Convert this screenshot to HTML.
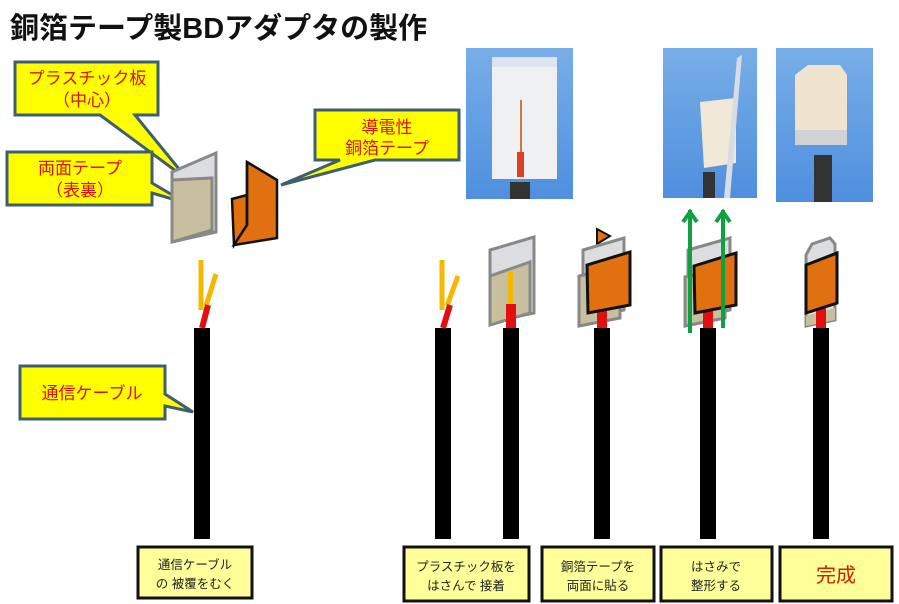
<!DOCTYPE html>
<html><head><meta charset="utf-8"><style>
body{margin:0;background:#fff}
svg{display:block}
text{font-family:"Liberation Sans","Noto Sans CJK JP",sans-serif}
</style></head><body>
<svg width="899" height="604" viewBox="0 0 899 604" xmlns="http://www.w3.org/2000/svg">
<text x="10" y="38" font-size="29" font-weight="bold" fill="#111">銅箔テープ製BDアダプタの製作</text>

<defs>
<linearGradient id="bg" x1="0" y1="0" x2="0" y2="1"><stop offset="0" stop-color="#78aee8"/><stop offset="1" stop-color="#4f8fde"/></linearGradient>
</defs>
<rect x="466" y="48" width="107" height="151" fill="url(#bg)"/>
<rect x="492" y="57" width="65" height="122" fill="#eef0f2"/>
<rect x="492" y="57" width="65" height="10" fill="#dde4ee"/>
<rect x="520" y="100" width="2" height="55" fill="#c87a40"/>
<rect x="517" y="152" width="7" height="25" fill="#e04020"/>
<rect x="510" y="182" width="20" height="17" fill="#333"/>

<rect x="663" y="48" width="94" height="150" fill="url(#bg)"/>
<polygon points="700,102 736,98 736,163 704,168" fill="#f2e8d8"/>
<polygon points="737,58 742,55 730,198 724,198" fill="#d8dde4"/>
<rect x="703" y="172" width="12" height="26" fill="#333"/>

<rect x="776" y="48" width="97" height="154" fill="url(#bg)"/>
<polygon points="795,75 808,65 840,65 847,75 847,142 795,142" fill="#f0e4d0"/>
<rect x="795" y="130" width="52" height="15" fill="#d0d2d6"/>
<rect x="814" y="155" width="18" height="47" fill="#333"/>

<g stroke="#3f5f70" stroke-width="3" fill="#ffff00">
<polygon points="15,62 158,62 158,115 135,115 188,180 100,115 15,115"/>
<polygon points="7,152 152,152 152,183 186,203 152,193 152,205 7,205"/>
<polygon points="315,110 459,110 459,160 375,160 281,185 340,160 315,160"/>
<polygon points="20,366 165,366 165,394 193,412 165,406 165,419 20,419"/>
</g>
<g fill="#e01010" font-size="17" text-anchor="middle">
<text x="87" y="84">プラスチック板</text><text x="87" y="106">（中心）</text>
<text x="80" y="174">両面テープ</text><text x="80" y="196">（表裏）</text>
<text x="387" y="133">導電性</text><text x="387" y="154">銅箔テープ</text>
<text x="92" y="399">通信ケーブル</text>
</g>

<polygon points="172,172 216,153 216,232 172,242" fill="#dcdde0" stroke="#888" stroke-width="3"/>
<polygon points="172,180 212,178 212,230 172,242" fill="#c8bf9e" stroke="#888" stroke-width="3"/>
<polygon points="232,199 247,195 247,225 234,245" fill="#e07010" stroke="#111" stroke-width="2.5"/>
<polygon points="247,162 277,180 277,238 234,245 247,225" fill="#e07010" stroke="#111" stroke-width="2.5"/>
<line x1="247" y1="162" x2="247" y2="225" stroke="#111" stroke-width="2.5"/>

<g fill="#000">
<rect x="194" y="328" width="16" height="211"/>
<rect x="435" y="328" width="16" height="211"/>
<rect x="503" y="328" width="16" height="211"/>
<rect x="594" y="328" width="16" height="211"/>
<rect x="700" y="328" width="16" height="211"/>
<rect x="813" y="328" width="16" height="211"/>
</g>
<g stroke-linecap="butt">
<line x1="201" y1="260" x2="201" y2="310" stroke="#f5b800" stroke-width="5"/>
<line x1="216" y1="274" x2="206" y2="306" stroke="#f5b800" stroke-width="5"/>
<line x1="208" y1="305" x2="202" y2="328" stroke="#e01010" stroke-width="6"/>
<line x1="442" y1="260" x2="442" y2="310" stroke="#f5b800" stroke-width="5"/>
<line x1="458" y1="276" x2="447" y2="306" stroke="#f5b800" stroke-width="5"/>
<line x1="450" y1="305" x2="443" y2="328" stroke="#e01010" stroke-width="6"/>
</g>
<polygon points="490,250 534,237 534,313 490,322" fill="#dcdde0" stroke="#888" stroke-width="3"/>
<polygon points="490,276 530,262 530,313 490,325" fill="#c8bf9e" stroke="#888" stroke-width="3"/>
<rect x="508" y="272" width="5" height="35" fill="#f5b800"/>
<rect x="506" y="304" width="10" height="24" fill="#e01010"/>
<polygon points="597,229 610,236 597,244" fill="#e07010" stroke="#111" stroke-width="2"/>
<polygon points="583,250 624,238 624,310 583,320" fill="#dcdde0" stroke="#888" stroke-width="3"/>
<polygon points="579,276 620,266 620,318 579,326" fill="#c8bf9e" stroke="#888" stroke-width="3"/>
<rect x="597" y="305" width="10" height="23" fill="#e01010"/>
<polygon points="587,265 630,252 630,305 588,313" fill="#e07010" stroke="#111" stroke-width="3"/>
<polygon points="688,250 730,238 730,310 688,320" fill="#dcdde0" stroke="#888" stroke-width="3"/>
<polygon points="685,277 725,266 725,318 685,326" fill="#c8bf9e" stroke="#888" stroke-width="3"/>
<rect x="703" y="305" width="10" height="23" fill="#e01010"/>
<polygon points="694,266 736,253 736,305 695,313" fill="#e07010" stroke="#111" stroke-width="3"/>
<g stroke="#10a040" stroke-width="4" fill="none">
<line x1="690" y1="333" x2="690" y2="210"/><polyline points="683,222 690,212 697,222"/>
<line x1="723" y1="328" x2="723" y2="210"/><polyline points="716,222 723,212 730,222"/>
</g>
<polygon points="806,255 812,244 830,238 835,244 835,320 806,326" fill="#dcdde0" stroke="#888" stroke-width="3"/>
<polygon points="806,316 835,308 835,320 806,326" fill="#c8bf9e"/>
<rect x="816" y="305" width="10" height="23" fill="#e01010"/>
<polygon points="806,265 837,253 837,303 806,313" fill="#e07010" stroke="#111" stroke-width="3"/>

<g fill="#ffff99" stroke="#111" stroke-width="3">
<rect x="138" y="547" width="114" height="51"/>
<rect x="404" y="547" width="125" height="54"/>
<rect x="542" y="547" width="112" height="54"/>
<rect x="661" y="547" width="111" height="54"/>
<rect x="780" y="547" width="112" height="54"/>
</g>
<g font-size="12.5" fill="#222" text-anchor="middle">
<text x="195" y="569">通信ケーブル</text><text x="195" y="588">の 被覆をむく</text>
<text x="466" y="571">プラスチック板を</text><text x="466" y="590">はさんで 接着</text>
<text x="598" y="571">銅箔テープを</text><text x="598" y="590">両面に貼る</text>
<text x="716" y="571">はさみで</text><text x="716" y="590">整形する</text>
</g>
<text x="836" y="582" font-size="20" fill="#d02000" text-anchor="middle">完成</text>
</svg>
</body></html>
